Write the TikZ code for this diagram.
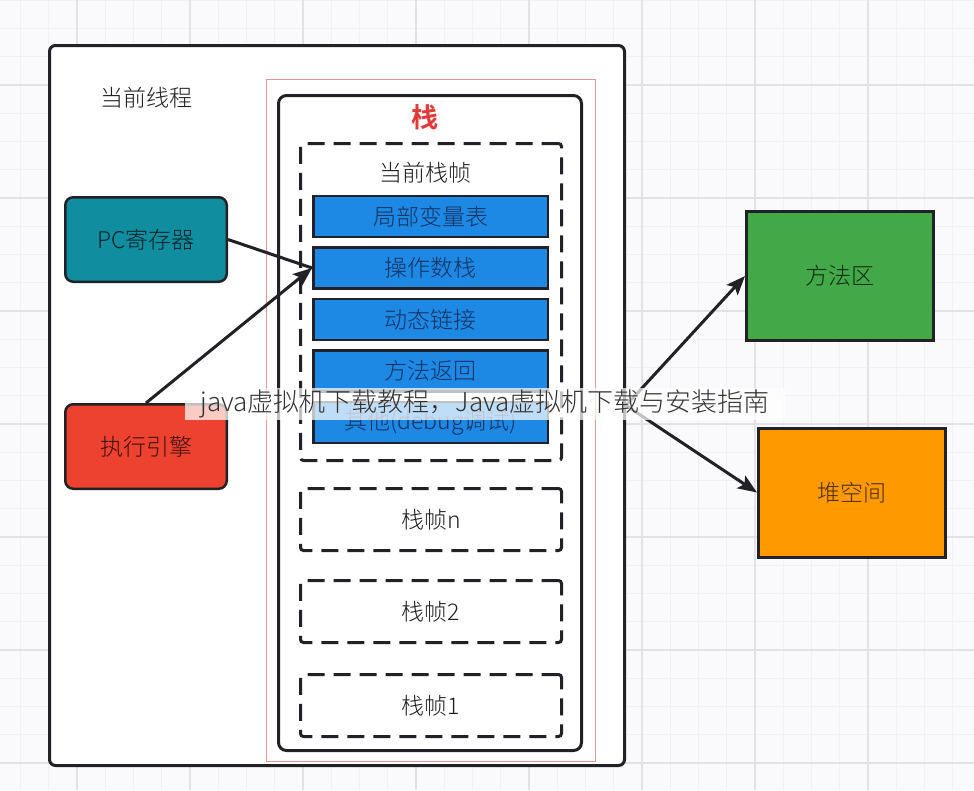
\documentclass[tikz,border=0pt]{standalone}
\usepackage{fontspec}
\IfFontExistsTF{Noto Sans CJK SC Light}{\setmainfont{Noto Sans CJK SC Light}[BoldFont={Noto Sans CJK SC Bold}]}{\setmainfont{Noto Sans CJK SC}}
\usetikzlibrary{arrows.meta, positioning}
\definecolor{mybg}{RGB}{250,250,252}
\definecolor{mygridminor}{RGB}{241,241,245}
\definecolor{mygridmajor}{RGB}{226,226,230}
\definecolor{myteal}{RGB}{16,142,160}
\definecolor{myred}{RGB}{238,66,48}
\definecolor{myblue}{RGB}{30,136,229}
\definecolor{mygreen}{RGB}{67,168,72}
\definecolor{myorange}{RGB}{255,153,0}
\definecolor{mypink}{RGB}{228,150,150}
\definecolor{mytitle}{RGB}{226,58,58}
\definecolor{myline}{RGB}{34,34,38}
\definecolor{myink}{RGB}{30,30,30}
\definecolor{bluetext}{RGB}{22,50,95}

\begin{document}
\begin{tikzpicture}[x=1pt, y=-1pt,
    big_text/.style={font=\fontsize{23}{27}\selectfont},
    minor_grid/.style={draw=mygridminor, line width=1pt},
    major_grid/.style={draw=mygridmajor, line width=1.2pt},
    thread_box/.style={draw=myline, line width=3pt, rounded corners=6pt, fill=white,
                       minimum width=575pt, minimum height=720pt},
    stack_box/.style={draw=myline, line width=3pt, rounded corners=8pt, fill=white,
                      minimum width=303pt, minimum height=655pt},
    frame_box/.style={draw=myline, line width=3pt, dash pattern=on 17pt off 9pt, rounded corners=3pt,
                      minimum width=261pt, big_text, text=myink},
    slot_box/.style={draw=myline, line width=2.5pt, fill=myblue, minimum width=234.5pt, minimum height=41pt,
                     big_text, text=bluetext},
    reg_box/.style={draw=myline, line width=2.5pt, rounded corners=8pt, minimum width=161.5pt,
                    minimum height=84.5pt, big_text},
    area_box/.style={draw=myline, line width=3pt, minimum width=187pt, minimum height=129pt, big_text},
    arrow/.style={-{Stealth[length=19pt, width=15pt, inset=4pt]}, line width=3pt, draw=myline},
    plain_link/.style={line width=3pt, draw=myline}
]
    \useasboundingbox (0,0) rectangle (974,790);

    % Grid background
    \fill[mybg] (0,0) rectangle (974,790);
    \foreach \i in {0,...,35} \draw[minor_grid] ({-7.75+28.25*\i},0) -- ({-7.75+28.25*\i},790);
    \foreach \j in {0,...,28} \draw[minor_grid] (0,{0.25+28.25*\j}) -- (974,{0.25+28.25*\j});
    \foreach \i in {0,...,8} \draw[major_grid] ({77+113*(\i-1)},0) -- ({77+113*(\i-1)},790);
    \foreach \j in {0,...,7} \draw[major_grid] (0,{85+113*(\j-1)}) -- (974,{85+113*(\j-1)});

    % Current thread
    \node[thread_box] (thread) at (337,405.5) {};
    \node[big_text, text=myink] (thread_label) at (146,98) {当前线程};

    % Stack outline and stack box
    \node[draw=mypink, line width=1pt, minimum width=329pt, minimum height=682pt] (stack_bound) at (431,420.5) {};
    \node[stack_box] (stack) at (430,423) {};
    \node[font=\fontsize{27}{30}\selectfont\bfseries, text=mytitle] (stack_label) at (425,117) {栈};

    % Current stack frame
    \node[frame_box, minimum height=317pt] (cur_frame) at (431,302) {};
    \node[big_text, text=myink] (cur_frame_label) at (425,173) {当前栈帧};

    % Slots of the current frame
    \node[slot_box] (local_vars) at (430.5,216.5) {局部变量表};
    \node[slot_box, below=8pt of local_vars] (op_stack) {操作数栈};
    \node[slot_box, below=8pt of op_stack] (dyn_link) {动态链接};
    \node[slot_box, below=8pt of dyn_link] (ret_addr) {方法返回};
    \node[slot_box, below=8pt of ret_addr] (others) {其他(debug调试)};

    % Other stack frames
    \node[frame_box, minimum height=62pt, below=25pt of cur_frame] (frame_n) {栈帧n};
    \node[frame_box, minimum height=62pt, below=27pt of frame_n] (frame_2) {栈帧2};
    \node[frame_box, minimum height=62pt, below=29pt of frame_2] (frame_1) {栈帧1};

    % PC register and execution engine
    \node[reg_box, fill=myteal, text=black!75!myteal] (pc) at (146,239.5) {PC寄存器};
    \node[reg_box, fill=myred, text=black!75!myred] (engine) at (146,446.5) {执行引擎};

    % Method area and heap
    \node[area_box, fill=mygreen, text=black!75!mygreen] (method_area) at (840,276) {方法区};
    \node[area_box, fill=myorange, text=black!70!myorange] (heap) at (852,492.5) {堆空间};

    % Connections
    \draw[plain_link] (pc.east) -- (op_stack.west);
    \draw[arrow] (engine.north) -- (op_stack.west);
    \draw[arrow] (thread.east) -- (method_area.west);
    \draw[arrow] (thread.east) -- (heap.west);

    % Watermark band
    \node[fill=white, fill opacity=0.72, text opacity=1, text=black!80, minimum width=600pt, minimum height=32pt,
          inner sep=0pt, font=\fontsize{26}{29}\selectfont] (watermark) at (485,404) {java虚拟机下载教程，Java虚拟机下载与安装指南};

\end{tikzpicture}
\end{document}
